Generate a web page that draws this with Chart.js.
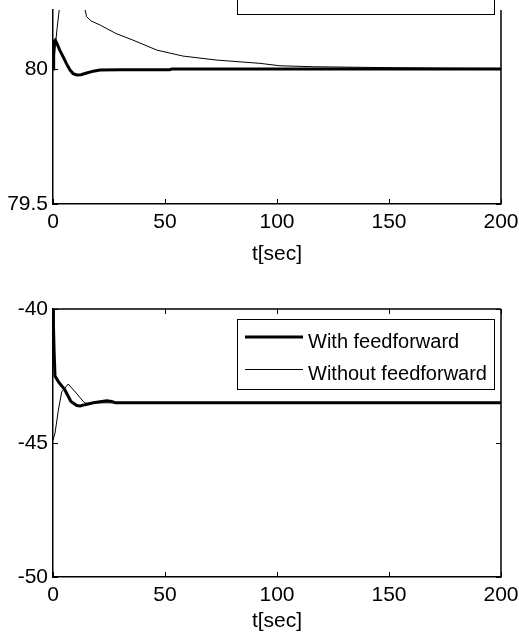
<!DOCTYPE html>
<html><head><meta charset="utf-8">
<script src="https://cdn.jsdelivr.net/npm/chart.js@4"></script>
<style>
html,body{margin:0;padding:0;background:#fff;overflow:hidden;}
#top{position:absolute;left:0;top:0;width:519px;height:270px;}
#bot{position:absolute;left:0;top:270px;width:519px;height:368px;}
</style></head><body>
<div id="top"><canvas id="c1"></canvas></div>
<div id="bot"><canvas id="c2"></canvas></div>
<script>
// ---- data ----
const X_TICKS = [0, 50, 100, 150, 200];
const TOP_Y_TICKS = [79.5, 80];
const BOT_Y_TICKS = [-50, -45, -40];
const SERIES_NAMES = ['With feedforward', 'Without feedforward'];
const X_LABEL = 't[sec]';

const topWithT = [0, 0.3, 1.0, 1.7, 3.0, 4.6, 6.0, 7.6, 9.0, 10.6, 12.5, 15, 18, 21, 30, 40, 52, 53, 100, 150, 200];
const topWithV = [80.0, 80.1, 80.107, 80.096, 80.07, 80.044, 80.02, 79.996, 79.983, 79.978, 79.979, 79.985, 79.992, 79.996, 79.997, 79.997, 79.997, 80.0, 80.0, 80.0, 80.0];

const topWithoutT = [0, 0.9, 1.8, 2.8, 4, 6, 8, 10, 12, 14.3, 15, 17, 21, 28, 35.7, 46.4, 58, 73.2, 92.4, 101.3, 116, 150, 175, 200];
const topWithoutV = [80.0, 80.07, 80.15, 80.22, 80.29, 80.34, 80.35, 80.33, 80.28, 80.22, 80.194, 80.178, 80.163, 80.132, 80.107, 80.07, 80.048, 80.033, 80.021, 80.012, 80.0085, 80.005, 80.003, 80.002];

const botWithT = [0, 0.2, 0.5, 0.9, 2.4, 5.3, 8.0, 10.6, 12.1, 14.3, 18, 21, 24, 26.2, 28, 50, 100, 150, 200];
const botWithV = [-40.0, -40.6, -41.6, -42.5, -42.71, -43.02, -43.45, -43.6, -43.62, -43.57, -43.5, -43.46, -43.42, -43.45, -43.5, -43.5, -43.5, -43.5, -43.5];

const botWithoutT = [0, 0.9, 2.4, 3.9, 6.8, 10, 13.5, 14.7, 20, 50, 100, 150, 200];
const botWithoutV = [-44.9, -44.63, -43.77, -43.09, -42.8, -43.1, -43.45, -43.52, -43.5, -43.5, -43.5, -43.5, -43.5];

const TOP_Y_RANGE = [79.5, 80.2186];
const BOT_Y_RANGE = [-50, -40];

// ---- helpers ----
const FONT = '"Liberation Sans", Arial, Helvetica, sans-serif';
const zip = (ts, vs) => ts.map((t, i) => ({x: t, y: vs[i]}));

const framePlugin = {
  id: 'frame',
  afterDatasetsDraw(chart, args, o) {
    const {ctx, chartArea: a, scales: {x, y}} = chart;
    ctx.save();
    ctx.strokeStyle = '#000';
    ctx.lineWidth = 1.5;
    ctx.beginPath();
    ctx.moveTo(a.right, a.top); ctx.lineTo(a.right, a.bottom);
    if (o.topBorder) { ctx.moveTo(a.left, a.top); ctx.lineTo(a.right, a.top); }
    ctx.stroke();
    ctx.lineWidth = 1;
    ctx.beginPath();
    X_TICKS.forEach(v => {
      const px = Math.round(x.getPixelForValue(v)) + 0.5;
      ctx.moveTo(px, a.bottom); ctx.lineTo(px, a.bottom - 5);
      if (o.topBorder) { ctx.moveTo(px, a.top); ctx.lineTo(px, a.top + 5); }
    });
    y.ticks.forEach(t => {
      const py = Math.round(y.getPixelForValue(t.value)) + 0.5;
      ctx.moveTo(a.left, py); ctx.lineTo(a.left + 5, py);
      ctx.moveTo(a.right, py); ctx.lineTo(a.right - 5, py);
    });
    ctx.stroke();
    // x axis label
    ctx.fillStyle = '#000';
    ctx.font = '21px ' + FONT;
    ctx.textAlign = 'center';
    ctx.textBaseline = 'alphabetic';
    ctx.fillText(X_LABEL, (a.left + a.right) / 2, a.bottom + o.labelOffset);
    // legend box
    const L = o.legend;
    ctx.lineWidth = 1;
    ctx.strokeStyle = '#000';
    ctx.fillStyle = '#fff';
    ctx.fillRect(L.left, L.top, L.right - L.left, L.bottom - L.top);
    ctx.strokeRect(L.left + 0.5, L.top + 0.5, L.right - L.left, L.bottom - L.top);
    const widths = [3, 1];
    const offs = [0, 0.5];
    ctx.font = '20px ' + FONT;
    ctx.textAlign = 'left';
    SERIES_NAMES.forEach((name, i) => {
      const ly = L.top + L.rows[i];
      ctx.lineWidth = widths[i];
      ctx.beginPath();
      ctx.moveTo(L.left + 8, ly + offs[i]); ctx.lineTo(L.left + 66, ly + offs[i]);
      ctx.stroke();
      ctx.fillStyle = '#000';
      ctx.fillText(name, L.left + 71, ly + 11);
    });
    ctx.restore();
  }
};

function makeChart(id, cfg) {
  return new Chart(document.getElementById(id), {
    type: 'line',
    data: {
      datasets: [
        {label: SERIES_NAMES[0], data: cfg.withData, borderColor: '#000', borderWidth: 3, pointRadius: 0, tension: 0, fill: false},
        {label: SERIES_NAMES[1], data: cfg.withoutData, borderColor: '#000', borderWidth: 1, pointRadius: 0, tension: 0, fill: false}
      ]
    },
    options: {
      responsive: true,
      maintainAspectRatio: false,
      animation: false,
      devicePixelRatio: 1,
      layout: {padding: {left: 0, right: 18, top: cfg.padTop, bottom: 0}},
      plugins: {
        legend: {display: false},
        tooltip: {enabled: false},
        frame: cfg.frame
      },
      scales: {
        x: {
          type: 'linear', min: 0, max: 200,
          afterBuildTicks: s => { s.ticks = X_TICKS.map(v => ({value: v})); },
          grid: {display: false, drawTicks: false},
          border: {display: true, color: '#000', width: 1.5},
          ticks: {color: '#000', font: {family: FONT, size: 21}, padding: 6, maxRotation: 0, autoSkip: false},
          afterFit: s => { s.height = cfg.xHeight; s.paddingLeft = 0; s.paddingRight = 0; }
        },
        y: {
          type: 'linear', min: cfg.yRange[0], max: cfg.yRange[1],
          afterBuildTicks: s => { s.ticks = cfg.yTicks.map(v => ({value: v})); },
          grid: {display: false, drawTicks: false},
          border: {display: true, color: '#000', width: 1.5},
          ticks: {color: '#000', font: {family: FONT, size: 21}, padding: 5, callback: v => String(v)},
          afterFit: s => { s.width = 53; s.paddingTop = 0; s.paddingBottom = 0; }
        }
      }
    },
    plugins: [framePlugin]
  });
}

makeChart('c1', {
  withData: zip(topWithT, topWithV),
  withoutData: zip(topWithoutT, topWithoutV),
  yRange: TOP_Y_RANGE, yTicks: TOP_Y_TICKS,
  padTop: 10, xHeight: 66,
  frame: {topBorder: false, labelOffset: 56,
    legend: {left: 237, right: 494, top: -60, bottom: 14, rows: [-41, -9]}}
});

makeChart('c2', {
  withData: zip(botWithT, botWithV),
  withoutData: zip(botWithoutT, botWithoutV),
  yRange: BOT_Y_RANGE, yTicks: BOT_Y_TICKS,
  padTop: 39, xHeight: 61,
  frame: {topBorder: true, labelOffset: 50,
    legend: {left: 237, right: 494, top: 49, bottom: 119, rows: [18, 50]}}
});
</script>
</body></html>
